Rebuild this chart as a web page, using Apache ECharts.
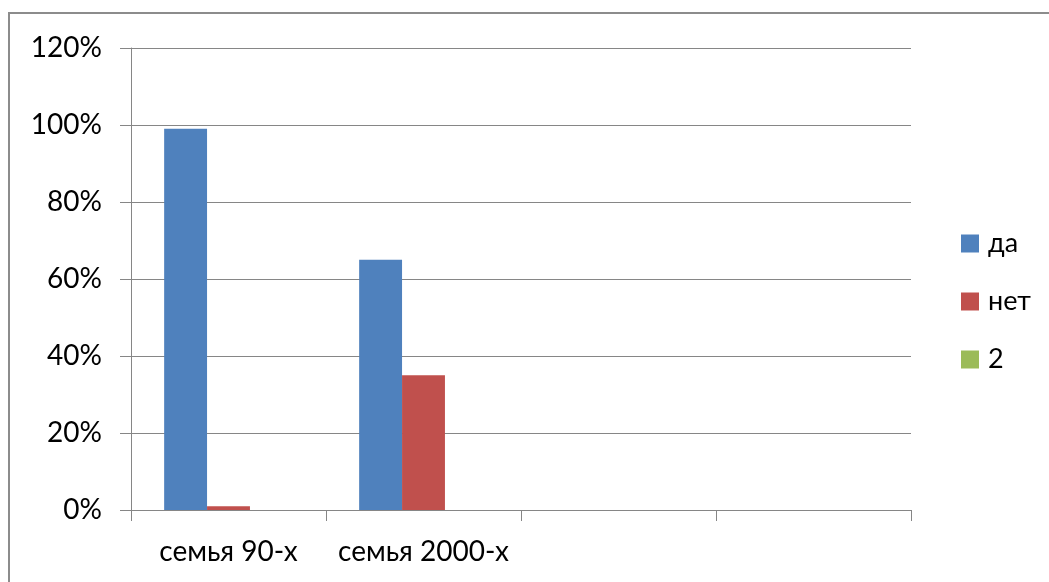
<!DOCTYPE html>
<html>
<head>
<meta charset="utf-8">
<script src="https://cdn.jsdelivr.net/npm/echarts@6/dist/echarts.min.js"></script>
<style>
html,body{margin:0;padding:0;background:#fff;}
#c{width:1049px;height:582px;}
</style>
</head>
<body>
<div id="c"></div>
<script>
var categories = ['семья 90-х', 'семья 2000-х', '', ''];
var seriesNames = ['да', 'нет', '2'];
var valuesDa = [0.99, 0.65, null, null];
var valuesNet = [0.01, 0.35, null, null];
var values2 = [null, null, null, null];
var colors = ['#4F81BD', '#C0504D', '#9BBB59'];

var FONT = 'Lato';
var chart = echarts.init(document.getElementById('c'));
chart.setOption({
  animation: false,
  textStyle: {fontFamily: FONT},
  graphic: [{
    type: 'rect',
    shape: {x: 9, y: 13, width: 1100, height: 700},
    style: {fill: 'none', stroke: '#8c8c8c', lineWidth: 2},
    silent: true
  }],
  grid: {left: 131, right: 138, top: 48, bottom: 72},
  legend: {
    orient: 'vertical',
    left: 956,
    top: 225,
    itemWidth: 18,
    itemHeight: 18,
    itemGap: 31,
    icon: 'rect',
    textStyle: {fontFamily: FONT, fontSize: 27, color: '#000', padding: [0, 0, 0, 4]},
    data: seriesNames
  },
  xAxis: {
    type: 'category',
    data: categories,
    axisLine: {lineStyle: {color: '#868686', width: 1}},
    axisTick: {show: true, length: 11, alignWithLabel: false, lineStyle: {color: '#868686'}},
    axisLabel: {fontFamily: FONT, fontSize: 28, color: '#000', margin: 28, interval: 0}
  },
  yAxis: {
    type: 'value',
    min: 0,
    max: 1.2,
    interval: 0.2,
    axisLine: {show: true, lineStyle: {color: '#868686', width: 1}},
    axisTick: {show: true, length: 11, lineStyle: {color: '#868686'}},
    splitLine: {show: true, lineStyle: {color: '#868686', width: 1}},
    axisLabel: {
      fontFamily: FONT, fontSize: 28, color: '#000', margin: 29,
      formatter: function (v) { return Math.round(v * 100) + '%'; }
    }
  },
  series: [
    {name: seriesNames[0], type: 'bar', data: valuesDa, itemStyle: {color: colors[0]}, barGap: '0%', barCategoryGap: '34%'},
    {name: seriesNames[1], type: 'bar', data: valuesNet, itemStyle: {color: colors[1]}, barGap: '0%', barCategoryGap: '34%'},
    {name: seriesNames[2], type: 'bar', data: values2, itemStyle: {color: colors[2]}, barGap: '0%', barCategoryGap: '34%'}
  ]
});
</script>
</body>
</html>
